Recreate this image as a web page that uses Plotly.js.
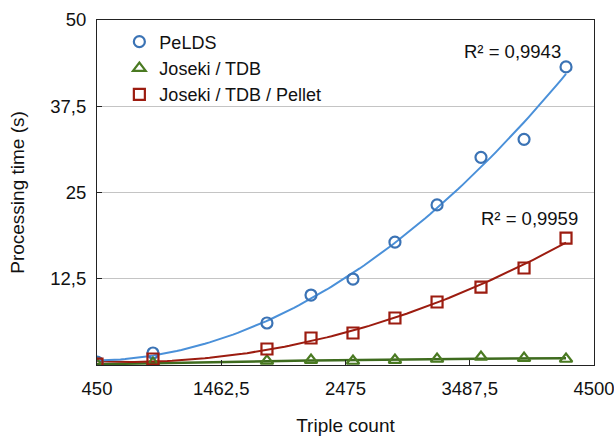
<!DOCTYPE html>
<html>
<head>
<meta charset="utf-8">
<script src="https://cdn.plot.ly/plotly-3.0.1.min.js"></script>
<style>html,body{margin:0;padding:0;background:#fff;}#chart{width:614px;height:436px;}</style>
</head>
<body>
<div id="chart"></div>
<script>
// Data
const tripleCount = [450, 906, 1835, 2194, 2536, 2878, 3221, 3579, 3930, 4272];
const peldsTime = [0.43, 1.74, 6.09, 10.14, 12.46, 17.8, 23.2, 30.1, 32.7, 43.2];
const josekiTdbTime = [0.1, 0.3, 0.6, 0.72, 0.58, 0.72, 0.87, 1.16, 1.0, 0.87];
const josekiTdbPelletTime = [0.14, 0.87, 2.32, 3.91, 4.64, 6.81, 9.13, 11.3, 14.06, 18.4];
const seriesNames = ["PeLDS", "Joseki / TDB", "Joseki / TDB / Pellet"];
const r2Labels = ["R² = 0,9943", "R² = 0,9959"];
const xTickVals = [450, 1462.5, 2475, 3487.5, 4500];
const xTickText = ["450", "1462,5", "2475", "3487,5", "4500"];
const yTickVals = [0, 12.5, 25, 37.5, 50];
const yTickText = ["", "12,5", "25", "37,5", "50"];

// Least-squares polynomial (order 2) trendline, like a spreadsheet trendline
function polyFit(xs, ys, order) {
  const n = order + 1;
  const A = Array.from({length: n}, () => new Array(n + 1).fill(0));
  for (let k = 0; k < xs.length; k++) {
    for (let i = 0; i < n; i++) {
      for (let j = 0; j < n; j++) A[i][j] += Math.pow(xs[k], i + j);
      A[i][n] += ys[k] * Math.pow(xs[k], i);
    }
  }
  for (let i = 0; i < n; i++) {
    let p = i;
    for (let r = i + 1; r < n; r++) if (Math.abs(A[r][i]) > Math.abs(A[p][i])) p = r;
    [A[i], A[p]] = [A[p], A[i]];
    for (let r = 0; r < n; r++) {
      if (r === i) continue;
      const f = A[r][i] / A[i][i];
      for (let c = i; c <= n; c++) A[r][c] -= f * A[i][c];
    }
  }
  return A.map((row, i) => row[n] / row[i]);
}
function trend(xs, ys) {
  const c = polyFit(xs, ys, 2);
  const x0 = Math.min(...xs), x1 = Math.max(...xs);
  const tx = [], ty = [];
  for (let i = 0; i <= 100; i++) {
    const x = x0 + (x1 - x0) * i / 100;
    tx.push(x);
    ty.push(c[0] + c[1] * x + c[2] * x * x);
  }
  return {tx, ty};
}

const blueM = "#3b73b5", blueL = "#4a90d9";
const greenM = "#4a7a22", greenL = "#3e6b1e";
const redM = "#9c1c10", redL = "#9c1c10";

const tB = trend(tripleCount, peldsTime);
const tG = trend(tripleCount, josekiTdbTime);
const tR = trend(tripleCount, josekiTdbPelletTime);

const traces = [
  {x: tG.tx, y: tG.ty, mode: "lines", line: {color: greenL, width: 2.5}, showlegend: false},
  {x: tR.tx, y: tR.ty, mode: "lines", line: {color: redL, width: 2}, showlegend: false},
  {x: tB.tx, y: tB.ty, mode: "lines", line: {color: blueL, width: 2}, showlegend: false},
  {x: tripleCount, y: peldsTime, name: seriesNames[0], mode: "markers",
   marker: {symbol: "circle-open", size: 11, color: blueM, line: {width: 2.2, color: blueM}}},
  {x: tripleCount, y: josekiTdbTime, name: seriesNames[1], mode: "markers",
   marker: {symbol: "triangle-up-open", size: 11, color: greenM, line: {width: 2.2, color: greenM}}},
  {x: tripleCount, y: josekiTdbPelletTime, name: seriesNames[2], mode: "markers",
   marker: {symbol: "square-open", size: 11, color: redM, line: {width: 2.2, color: redM}}}
];

const font = {family: "Liberation Sans, Arial, Helvetica, sans-serif", size: 19, color: "#111"};

const layout = {
  width: 614, height: 436,
  margin: {l: 97, r: 20, t: 20, b: 71},
  paper_bgcolor: "#fff", plot_bgcolor: "#fff",
  font: font,
  showlegend: true,
  legend: {x: 0.045, y: 0.99, xanchor: "left", yanchor: "top", bgcolor: "rgba(0,0,0,0)",
           font: {family: font.family, size: 18, color: "#111"}, tracegroupgap: 0},
  xaxis: {
    range: [450, 4500], tickvals: xTickVals, ticktext: xTickText,
    ticks: "inside", ticklen: 5, tickcolor: "#222", showgrid: false,
    showline: true, linecolor: "#222", linewidth: 1, mirror: true, zeroline: false,
    tickfont: {size: 18.5}, ticklabelstandoff: 7, ticklabeloverflow: "allow",
    title: {text: "Triple count", font: {size: 19}, standoff: 22}
  },
  yaxis: {
    range: [0, 50], tickvals: yTickVals, ticktext: yTickText,
    ticks: "inside", ticklen: 5, tickcolor: "#222",
    showgrid: true, gridcolor: "#c4c4c4", gridwidth: 1,
    showline: true, linecolor: "#222", linewidth: 1, mirror: true, zeroline: false,
    tickfont: {size: 18.5}, ticklabelstandoff: 6, ticklabeloverflow: "allow",
    title: {text: "Processing time (s)", font: {size: 19}, standoff: 20}
  },
  annotations: [
    {text: r2Labels[0], xref: "x", yref: "y", x: 4250, y: 45.4, xanchor: "right", yanchor: "middle",
     showarrow: false, font: {size: 18.5}},
    {text: r2Labels[1], xref: "x", yref: "y", x: 4385, y: 21.3, xanchor: "right", yanchor: "middle",
     showarrow: false, font: {size: 18.5}}
  ]
};

Plotly.newPlot("chart", traces, layout, {staticPlot: true, displayModeBar: false});
</script>
</body>
</html>
